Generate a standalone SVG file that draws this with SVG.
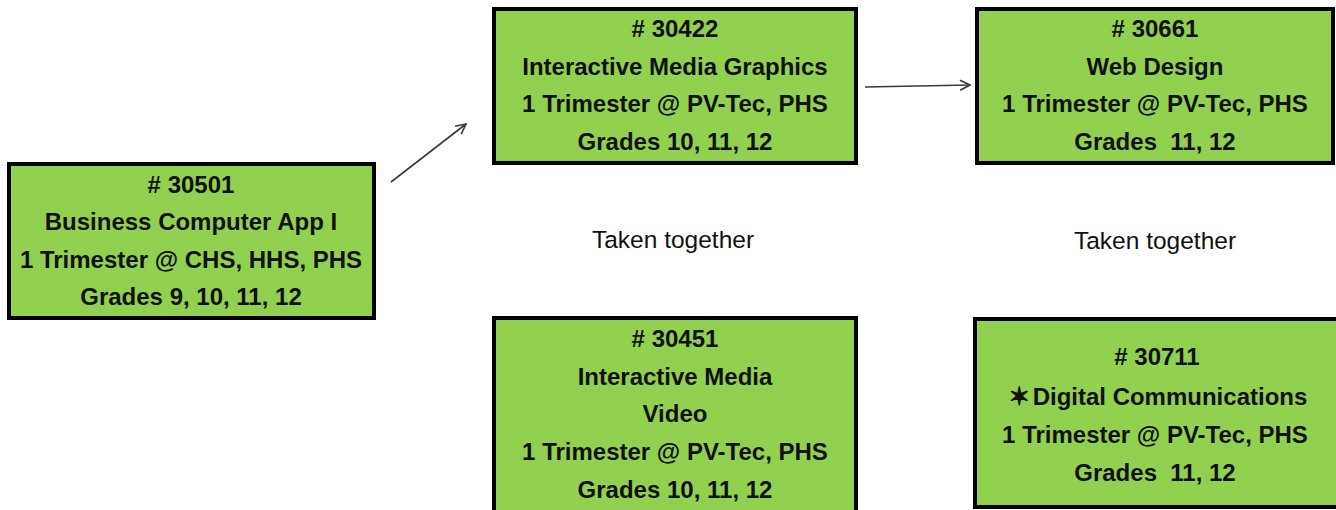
<svg xmlns="http://www.w3.org/2000/svg" width="1336" height="510" viewBox="0 0 1336 510">
<defs>
<style>
.box{fill:#92D050;stroke:#000;stroke-width:4}
.t{font-family:"Liberation Sans",Arial,sans-serif;font-weight:bold;font-size:24px;fill:#111;text-anchor:middle}
.n{font-family:"Liberation Sans",Arial,sans-serif;font-size:24.5px;fill:#111;text-anchor:middle}
.star{font-family:"DejaVu Sans",sans-serif;font-size:25px;stroke:#111;stroke-width:1.2}
.c{stroke:#3a3a3a;stroke-width:1.6;fill:none}
</style>
<marker id="ah" viewBox="0 0 12 12" refX="11" refY="6" markerWidth="12" markerHeight="12" markerUnits="userSpaceOnUse" orient="auto">
<path d="M1,1 L11,6 L1,11" fill="none" stroke="#3a3a3a" stroke-width="1.6"/>
</marker>
</defs>
<rect width="1336" height="510" fill="#fff"/>
<g id="connectors">
<line class="c" x1="391" y1="182" x2="466" y2="124" marker-end="url(#ah)"/>
<line class="c" x1="865" y1="87" x2="970" y2="85" marker-end="url(#ah)"/>
</g>
<g id="n30501">
<rect class="box" x="9" y="164" width="365" height="154"/>
<text class="t" x="191" y="193"># 30501</text>
<text class="t" x="191" y="230">Business Computer App I</text>
<text class="t" x="191" y="268">1 Trimester @ CHS, HHS, PHS</text>
<text class="t" x="191" y="305">Grades 9, 10, 11, 12</text>
</g>
<g id="n30422">
<rect class="box" x="494" y="9" width="362" height="154"/>
<text class="t" x="675" y="37"># 30422</text>
<text class="t" x="675" y="75">Interactive Media Graphics</text>
<text class="t" x="675" y="112">1 Trimester @ PV-Tec, PHS</text>
<text class="t" x="675" y="150">Grades 10, 11, 12</text>
</g>
<g id="n30661">
<rect class="box" x="977" y="9" width="356" height="154"/>
<text class="t" x="1155" y="37"># 30661</text>
<text class="t" x="1155" y="75">Web Design</text>
<text class="t" x="1155" y="112">1 Trimester @ PV-Tec, PHS</text>
<text class="t" x="1155" y="150" xml:space="preserve">Grades  11, 12</text>
</g>
<g id="n30451">
<rect class="box" x="494" y="318" width="362" height="200"/>
<text class="t" x="675" y="347"># 30451</text>
<text class="t" x="675" y="385">Interactive Media</text>
<text class="t" x="675" y="422">Video</text>
<text class="t" x="675" y="460">1 Trimester @ PV-Tec, PHS</text>
<text class="t" x="675" y="498">Grades 10, 11, 12</text>
</g>
<g id="n30711">
<rect class="box" x="975" y="319" width="370" height="188"/>
<text class="t" x="1157" y="365"># 30711</text>
<text class="t" x="1158" y="405"><tspan class="star">✶</tspan><tspan dx="3">Digital Communications</tspan></text>
<text class="t" x="1155" y="443">1 Trimester @ PV-Tec, PHS</text>
<text class="t" x="1155" y="481" xml:space="preserve">Grades  11, 12</text>
</g>
<g id="labels">
<text class="n" x="673" y="248">Taken together</text>
<text class="n" x="1155" y="249">Taken together</text>
</g>
</svg>
